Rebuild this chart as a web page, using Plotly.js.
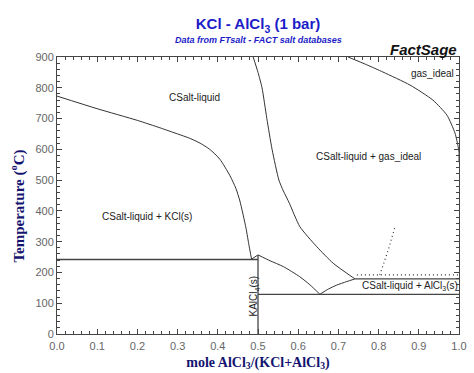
<!DOCTYPE html>
<html>
<head>
<meta charset="utf-8">
<script src="https://cdn.plot.ly/plotly-3.0.1.min.js"></script>
<style>html,body{margin:0;padding:0;background:#fff;}#chart{width:474px;height:373px;}</style>
</head>
<body>
<div id="chart"></div>
<script>
// Liquidus on KCl side (CSalt-liquid / CSalt-liquid + KCl(s))
const liqKclX = [0.0, 0.1, 0.2, 0.256, 0.3, 0.33, 0.356, 0.38, 0.405, 0.43, 0.445, 0.455, 0.47, 0.478, 0.484];
const liqKclT = [773, 732, 694, 670, 650, 636, 620, 600, 568, 515, 473, 432, 345, 285, 243];
// Peritectic-ish segment up to KAlCl4 melting
const periX = [0.484, 0.5];
const periT = [243, 257];
// Liquidus of KAlCl4 down to eutectic
const liqKalX = [0.5, 0.53, 0.563, 0.604, 0.629, 0.654];
const liqKalT = [257, 238, 219, 186, 160, 129];
// Liquidus AlCl3 side, eutectic to sublimation
const liqAlX = [0.654, 0.675, 0.696, 0.72, 0.741];
const liqAlT = [129, 146, 159, 170, 179];
// Boundary CSalt-liquid / CSalt-liquid + gas_ideal
const gasLiqX = [0.488, 0.500, 0.510, 0.522, 0.535, 0.552, 0.563, 0.578, 0.604, 0.646, 0.687, 0.741];
const gasLiqT = [900, 850, 800, 700, 600, 500, 465, 425, 349, 284, 230, 179];
// Boundary gas_ideal / CSalt-liquid + gas_ideal
const gasX = [0.724, 0.770, 0.811, 0.878, 0.935, 0.970, 0.990, 0.998, 1.0, 1.0];
const gasT = [900, 875, 851, 809, 760, 711, 653, 608, 590, 560];
// Invariant (horizontal) lines
const eutKclX = [0.0, 0.5];   const eutKclT = [242, 242];
const eutAlX = [0.5, 1.0];    const eutAlT = [129, 129];
const sublX = [0.741, 1.0];   const sublT = [179, 179];
// KAlCl4 compound vertical line
const compX = [0.5, 0.5];     const compT = [0, 257];
// Dotted metastable lines
const dotHX = [0.746, 1.0];   const dotHT = [192, 192];
const dotDX = [0.803, 0.824, 0.841]; const dotDT = [192, 273, 349];

// Region labels
const labText = ["CSalt-liquid", "gas_ideal", "CSalt-liquid + gas_ideal", "CSalt-liquid + KCl(s)", "CSalt-liquid + AlCl<sub>3</sub>(s)"];
const labX = [0.343, 0.935, 0.774, 0.224, 0.878];
const labT = [770, 845, 578, 383, 157];

const xTicks = [0, 0.1, 0.2, 0.3, 0.4, 0.5, 0.6, 0.7, 0.8, 0.9, 1.0];
const yTicks = [0, 100, 200, 300, 400, 500, 600, 700, 800, 900];

const lineC = '#333333';
function ln(x, y, opts) {
  return Object.assign({x: x, y: y, mode: 'lines', type: 'scatter', hoverinfo: 'skip', showlegend: false,
    line: {color: lineC, width: 1, shape: 'spline', smoothing: 0.6}}, opts || {});
}
const straight = {color: '#444', width: 1.3};
const dotted = {color: '#333', width: 1.2, dash: '1px,3px'};
const traces = [
  ln(liqKclX, liqKclT),
  ln(periX, periT, {line: {color: lineC, width: 1}}),
  ln(liqKalX, liqKalT),
  ln(liqAlX, liqAlT),
  ln(gasLiqX, gasLiqT),
  ln(gasX, gasT),
  ln(eutKclX, eutKclT, {line: straight}),
  ln(eutAlX, eutAlT, {line: straight}),
  ln(sublX, sublT, {line: straight}),
  ln(compX, compT, {line: straight}),
  ln(dotHX, dotHT, {line: dotted}),
  ln(dotDX, dotDT, {line: dotted})
];

const labFont = {family: 'Arial, Liberation Sans, sans-serif', size: 10, color: '#222'};
const annotations = labText.map((t, i) => ({x: labX[i], y: labT[i], xref: 'x', yref: 'y', text: t, showarrow: false, font: labFont}));
annotations.push({x: 0.49, y: 125, xref: 'x', yref: 'y', text: 'KAlCl<sub>4</sub>(s)', textangle: -90, showarrow: false, font: labFont});
annotations.push({x: 0.5, y: 1, xref: 'paper', yref: 'paper', yanchor: 'bottom', yshift: 10, text: '<b><i>Data from FTsalt - FACT salt databases</i></b>',
  showarrow: false, font: {family: 'Arial, Liberation Sans, sans-serif', size: 9, color: '#1c1cc8'}});
annotations.push({x: 1, y: 1, xref: 'paper', yref: 'paper', xanchor: 'right', yanchor: 'bottom', yshift: -3, text: '<b><i>FactSage</i></b>',
  showarrow: false, font: {family: 'Arial, Liberation Sans, sans-serif', size: 15, color: '#111'}});
annotations.push({x: -0.097, y: 0.46, xref: 'paper', yref: 'paper', xanchor: 'center', yanchor: 'middle', textangle: -90,
  text: '<b>Temperature (<sup>o</sup>C)</b>', showarrow: false,
  font: {family: 'Liberation Serif, Times New Roman, serif', size: 15, color: '#141470'}});

const layout = {
  width: 474, height: 373,
  margin: {l: 57, r: 15, t: 57, b: 39, pad: 0},
  paper_bgcolor: '#fff', plot_bgcolor: '#fff',
  title: {text: '<b>KCl - AlCl<sub>3</sub> (1 bar)</b>', x: 0.5, xref: 'paper', y: 0.935, yref: 'container', yanchor: 'middle',
    font: {family: 'Arial, Liberation Sans, sans-serif', size: 15, color: '#1c1cc8'}},
  xaxis: {range: [0, 1], tickvals: xTicks, tickformat: '.1f', ticks: 'inside', ticklen: 5, tickcolor: '#444',
    showline: true, linecolor: '#444', linewidth: 1, mirror: 'allticks', showgrid: false, zeroline: false,
    ticklabelstandoff: 2,
    minor: {dtick: 0.02, ticks: 'inside', ticklen: 3, tickcolor: '#444', showgrid: false},
    tickfont: {family: 'Arial, Liberation Sans, sans-serif', size: 11, color: '#666'},
    title: {text: '<b>mole AlCl<sub>3</sub>/(KCl+AlCl<sub>3</sub>)</b>', standoff: 5,
      font: {family: 'Liberation Serif, Times New Roman, serif', size: 14, color: '#141470'}}},
  yaxis: {range: [0, 900], tickvals: yTicks, ticks: 'inside', ticklen: 5, tickcolor: '#444',
    showline: true, linecolor: '#444', linewidth: 1, mirror: 'allticks', showgrid: false, zeroline: false,
    minor: {dtick: 20, ticks: 'inside', ticklen: 3, tickcolor: '#444', showgrid: false},
    tickfont: {family: 'Arial, Liberation Sans, sans-serif', size: 11, color: '#666'}},
  annotations: annotations
};
Plotly.newPlot('chart', traces, layout, {staticPlot: true, displayModeBar: false});
</script>
</body>
</html>
